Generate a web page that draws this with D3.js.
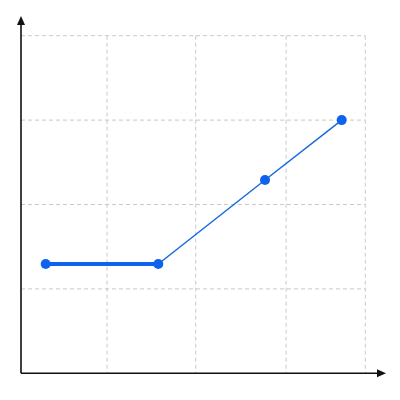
<!DOCTYPE html>
<html><head><meta charset="utf-8">
<script src="https://cdn.jsdelivr.net/npm/d3@7"></script>
<style>html,body{margin:0;padding:0;background:#fff;}</style>
</head><body><svg id="c" width="400" height="400"></svg>
<script>
const xValues = [0.287, 1.595, 2.835, 3.726];
const yValues = [1.295, 1.295, 2.29, 3.0];
const xGrid = [1, 2.03, 3.08, 4];
const yGrid = [1, 2, 3, 4];

const svg = d3.select("#c");
const x = d3.scaleLinear().domain([0, 4]).range([21, 365.3]);
const y = d3.scaleLinear().domain([0, 4]).range([373.3, 35.7]);

const grid = svg.append("g").attr("stroke", "#c8c8c8").attr("stroke-width", 1).attr("stroke-dasharray", "4,3").attr("fill", "none");
grid.selectAll("line.v").data(xGrid).join("line").attr("class","v")
  .attr("x1", d => x(d)).attr("x2", d => x(d)).attr("y1", y(4)).attr("y2", y(0));
grid.selectAll("line.h").data(yGrid).join("line").attr("class","h")
  .attr("x1", x(0)).attr("x2", x(4)).attr("y1", d => y(d)).attr("y2", d => y(d));

// axes
svg.append("line").attr("x1", x(0)).attr("x2", 380).attr("y1", y(0)).attr("y2", y(0)).attr("stroke", "#111").attr("stroke-width", 1.6);
svg.append("line").attr("x1", x(0)).attr("x2", x(0)).attr("y1", y(0)).attr("y2", 22).attr("stroke", "#111").attr("stroke-width", 1.6);
svg.append("path").attr("d", `M386,${y(0)} L377,${y(0)-4} L377,${y(0)+4} Z`).attr("fill", "#111");
svg.append("path").attr("d", `M${x(0)},16 L${x(0)-4},25 L${x(0)+4},25 Z`).attr("fill", "#111");

const pts = xValues.map((v, i) => [v, yValues[i]]);
const line = d3.line().x(d => x(d[0])).y(d => y(d[1]));
svg.append("path").attr("d", line(pts.slice(0, 2))).attr("stroke", "#0f62ee").attr("stroke-width", 4).attr("fill", "none");
svg.append("path").attr("d", line(pts.slice(1))).attr("stroke", "#176ae0").attr("stroke-width", 1.5).attr("fill", "none");
svg.selectAll("circle").data(pts).join("circle")
  .attr("cx", d => x(d[0])).attr("cy", d => y(d[1])).attr("r", 5).attr("fill", "#0f62ee");
</script></body></html>
